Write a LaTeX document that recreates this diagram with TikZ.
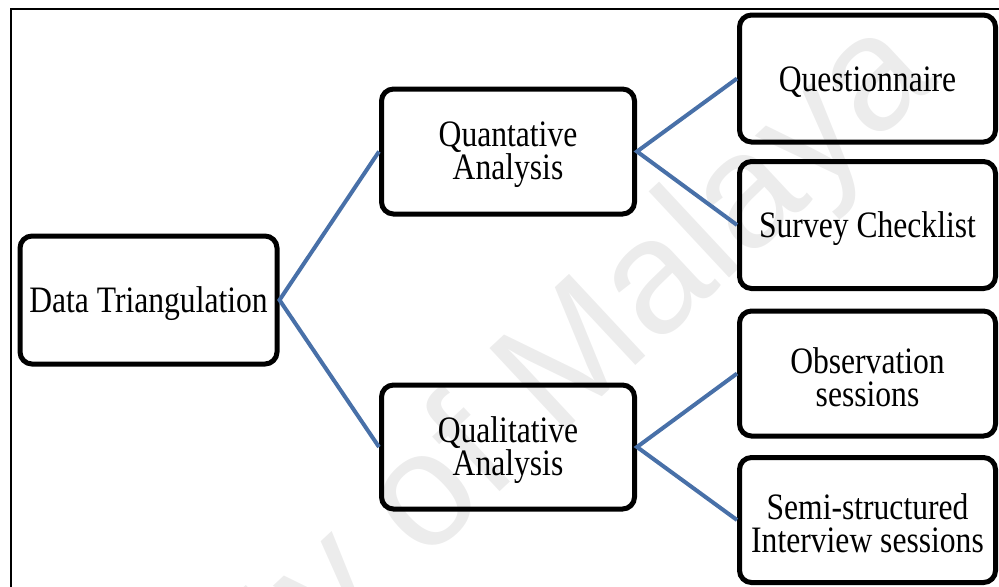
\documentclass[tikz,border=0pt]{standalone}
\usepackage{fontspec}
\setmainfont{Liberation Serif}
\newfontfamily\wmfont{Liberation Sans}
\usepackage{graphicx}
\definecolor{linkblue}{RGB}{72,112,168}
\definecolor{wmgray}{RGB}{236,236,236}
\newcommand{\boxtext}[1]{\vbox{\kern5pt\hbox{\scalebox{1}[1.18]{\vbox{\baselineskip=21pt\lineskiplimit=-\maxdimen\lineskip=0pt
  \halign{\hfil##\hfil\cr #1\crcr}}}}}}
\tikzset{
  box/.style={draw=black, line width=3.75pt, rounded corners=9pt, rectangle, inner sep=0pt,
    font=\fontsize{23.7pt}{20pt}\selectfont},
  rbox/.style={box, minimum width=192pt},
  link/.style={draw=linkblue, line width=3pt},
  frame/.style={draw=black, line width=1.5pt}
}
\begin{document}
\begin{tikzpicture}[x=0.75pt,y=-0.75pt]
\useasboundingbox (0,0) rectangle (999,586);
\clip (0,0) rectangle (999,586);
% watermark
\node[rotate=43, anchor=base east, text=wmgray, inner sep=0pt,
  font=\wmfont\fontsize{122pt}{122pt}\selectfont] (wm) at (940,82) {University of Malaya};
% frame
\coordinate (f1) at (11,600);
\coordinate (f2) at (11,9);
\coordinate (f3) at (1010,9);
\draw[frame] (f1) -- (f2) -- (f3);
% nodes
\node[box, minimum width=192.75pt, minimum height=96pt] (data) at (148.5,300) {\boxtext{Data Triangulation}};
\node[box, minimum width=189.75pt, minimum height=93.75pt] (quant) at (508,151.5) {\boxtext{Quantative\cr Analysis}};
\node[box, minimum width=189.75pt, minimum height=93pt] (qual) at (508,447) {\boxtext{Qualitative\cr Analysis}};
\node[rbox, minimum height=95.25pt] (quest) at (867.5,78.5) {\boxtext{Questionnaire}};
\node[rbox, minimum height=95.25pt] (survey) at (867.5,225) {\boxtext{Survey Checklist}};
\node[rbox, minimum height=93.75pt] (obs) at (867.5,373.5) {\boxtext{Observation\cr sessions}};
\node[rbox, minimum height=93.75pt] (semi) at (867.5,520) {\boxtext{Semi-structured\cr Interview sessions}};
% connectors
\draw[link] (quant.west) -- (data.east) -- (qual.west);
\draw[link] (quest.west) -- (quant.east) -- (survey.west);
\draw[link] (obs.west) -- (qual.east) -- (semi.west);
\end{tikzpicture}
\end{document}
